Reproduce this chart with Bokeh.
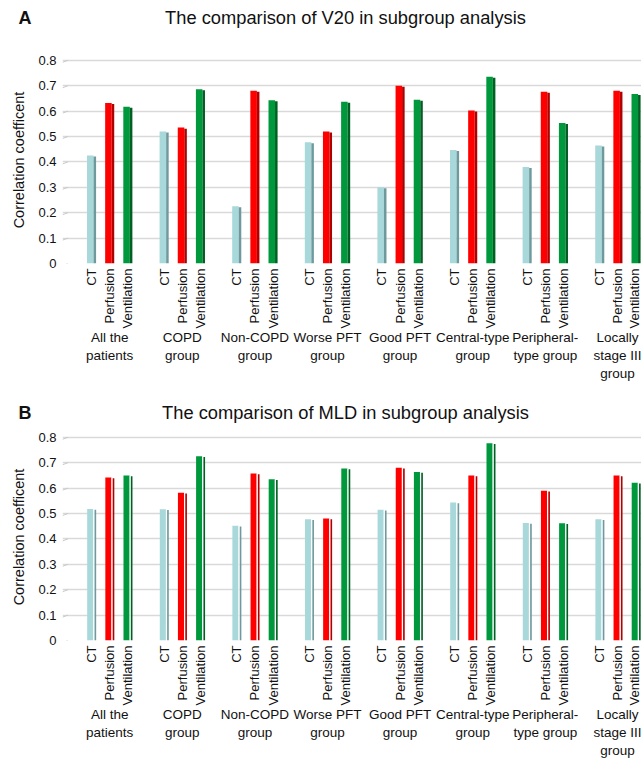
import math
from bokeh.plotting import figure
from bokeh.models import Range1d, FixedTicker, LinearAxis
from bokeh.core.properties import value
from bokeh.layouts import column
from bokeh.embed import file_html
from bokeh.resources import INLINE

groups = ["All the\npatients", "COPD\ngroup", "Non-COPD\ngroup", "Worse PFT\ngroup",
          "Good PFT\ngroup", "Central-type\ngroup", "Peripheral-\ntype group",
          "Locally\nstage III\ngroup"]
series = ["CT", "Perfusion", "Ventilation"]
y_ticks = [0, 0.1, 0.2, 0.3, 0.4, 0.5, 0.6, 0.7, 0.8]
y_tick_labels = ["0", "0.1", "0.2", "0.3", "0.4", "0.5", "0.6", "0.7", "0.8"]

v20_ct = [0.425, 0.52, 0.225, 0.477, 0.30, 0.447, 0.38, 0.465]
v20_perf = [0.632, 0.535, 0.68, 0.52, 0.70, 0.602, 0.676, 0.68]
v20_vent = [0.617, 0.686, 0.643, 0.637, 0.645, 0.735, 0.553, 0.667]

mld_ct = [0.518, 0.517, 0.452, 0.477, 0.515, 0.543, 0.463, 0.477]
mld_perf = [0.642, 0.582, 0.658, 0.48, 0.68, 0.65, 0.59, 0.65]
mld_vent = [0.65, 0.725, 0.635, 0.677, 0.663, 0.777, 0.462, 0.621]

FONT = "Liberation Sans"
STEP = 4
W = 641
faces = ["#A8D8DA", "#FF0000", "#00983C"]
sides = ["#6F9A9D", "#B00000", "#005F22"]


def strip_axis(ax):
    ax.axis_line_color = None
    ax.major_tick_line_color = None
    ax.minor_tick_line_color = None
    ax.major_tick_out = 0
    ax.major_tick_in = 0
    ax.minor_tick_out = 0
    ax.minor_tick_in = 0


def make_header(letter, title, height, y_from_top):
    h = figure(width=W, height=height, output_backend="svg", toolbar_location=None,
               x_range=Range1d(0, W), y_range=Range1d(0, height),
               x_axis_location=None, y_axis_location=None,
               min_border_left=0, min_border_right=0, min_border_top=0, min_border_bottom=0)
    h.frame_align = False
    h.outline_line_color = None
    h.grid.visible = False
    ty = height - y_from_top
    h.text(x=[18], y=[ty], text=[letter], text_align="left", text_baseline="middle",
           text_font=value(FONT), text_font_size=value("18px"), text_font_style="bold",
           text_color="#111111")
    h.text(x=[345], y=[ty], text=[title], text_align="center", text_baseline="middle",
           text_font=value(FONT), text_font_size=value("18.3px"), text_font_style="normal",
           text_color="#111111")
    return h


def make_panel(vals, height, top, bottom, style):
    p = figure(width=W, height=height, output_backend="svg", toolbar_location=None,
               x_range=Range1d(-1.6, 30.3), y_range=Range1d(0, 0.815),
               min_border_left=62, min_border_right=0, min_border_top=top,
               min_border_bottom=bottom)
    p.frame_align = False
    p.outline_line_color = None
    p.background_fill_color = "white"
    p.border_fill_color = "white"
    p.xgrid.visible = False
    p.ygrid.ticker = FixedTicker(ticks=y_ticks, minor_ticks=[])
    p.ygrid.grid_line_color = "#D9D9D9"
    p.ygrid.grid_line_width = 1.5

    # diagonal 3D ticks at the left end of gridlines
    p.segment(x0=[-1.6] * len(y_ticks), y0=[t - 0.008 for t in y_ticks],
              x1=[-1.3] * len(y_ticks), y1=y_ticks, line_color="#C8C8C8", line_width=1)

    for j, v in enumerate(vals):
        xs = [STEP * i + j for i in range(len(groups))]
        if style == "A":
            p.vbar(x=[x - 0.07 for x in xs], top=v, bottom=0, width=0.36,
                   fill_color=faces[j], line_color=None)
            p.vbar(x=[x + 0.18 for x in xs], top=[t - 0.004 for t in v], bottom=0, width=0.14,
                   fill_color=sides[j], line_color=None)
        else:
            p.vbar(x=[x - 0.07 for x in xs], top=v, bottom=0, width=0.34,
                   fill_color=faces[j], line_color=None)
            p.vbar(x=[x + 0.13 for x in xs], top=v, bottom=0, width=0.07,
                   fill_color="white", line_color=None)
            p.vbar(x=[x + 0.21 for x in xs], top=[t - 0.003 for t in v], bottom=0, width=0.09,
                   fill_color=sides[j], line_color=None)

    ya = p.yaxis[0]
    ya.ticker = FixedTicker(ticks=y_ticks, minor_ticks=[])
    ya.major_label_overrides = {t: s for t, s in zip(y_ticks, y_tick_labels)}
    strip_axis(ya)
    ya.major_label_standoff = 6
    ya.major_label_text_font = FONT
    ya.major_label_text_font_size = "13px"
    ya.major_label_text_color = "#111111"
    ya.axis_label = "Correlation coefficent"
    ya.axis_label_text_font = FONT
    ya.axis_label_text_font_size = "14.5px"
    ya.axis_label_text_font_style = "normal"
    ya.axis_label_text_color = "#111111"
    ya.axis_label_standoff = 8

    bar_pos = [STEP * i + j for i in range(len(groups)) for j in range(len(series))]
    bar_lab = [series[j] for i in range(len(groups)) for j in range(len(series))]
    xa = p.xaxis[0]
    xa.ticker = FixedTicker(ticks=bar_pos, minor_ticks=[])
    xa.major_label_overrides = {t: s for t, s in zip(bar_pos, bar_lab)}
    xa.major_label_orientation = math.pi / 2
    strip_axis(xa)
    xa.axis_label_standoff = 0
    xa.major_label_standoff = 5
    xa.major_label_text_font = FONT
    xa.major_label_text_font_size = "13px"
    xa.major_label_text_color = "#111111"

    grp_pos = [STEP * i + 1 for i in range(len(groups))]
    ga = LinearAxis(ticker=FixedTicker(ticks=grp_pos, minor_ticks=[]),
                    major_label_overrides={t: s for t, s in zip(grp_pos, groups)})
    strip_axis(ga)
    ga.axis_label_standoff = 0
    ga.major_label_standoff = -2
    ga.major_label_text_font = FONT
    ga.major_label_text_font_size = "13.5px"
    ga.major_label_text_color = "#111111"
    p.add_layout(ga, "below")
    return p


hA = make_header("A", "The comparison of V20 in subgroup analysis", 46, 17)
pA = make_panel([v20_ct, v20_perf, v20_vent], 337, 10, 118, "A")
hB = make_header("B", "The comparison of MLD in subgroup analysis", 44, 29)
pB = make_panel([mld_ct, mld_perf, mld_vent], 333, 6, 118, "B")

layout = column(hA, pA, hB, pB, spacing=0)
open("out.html", "w").write(file_html(layout, INLINE))
